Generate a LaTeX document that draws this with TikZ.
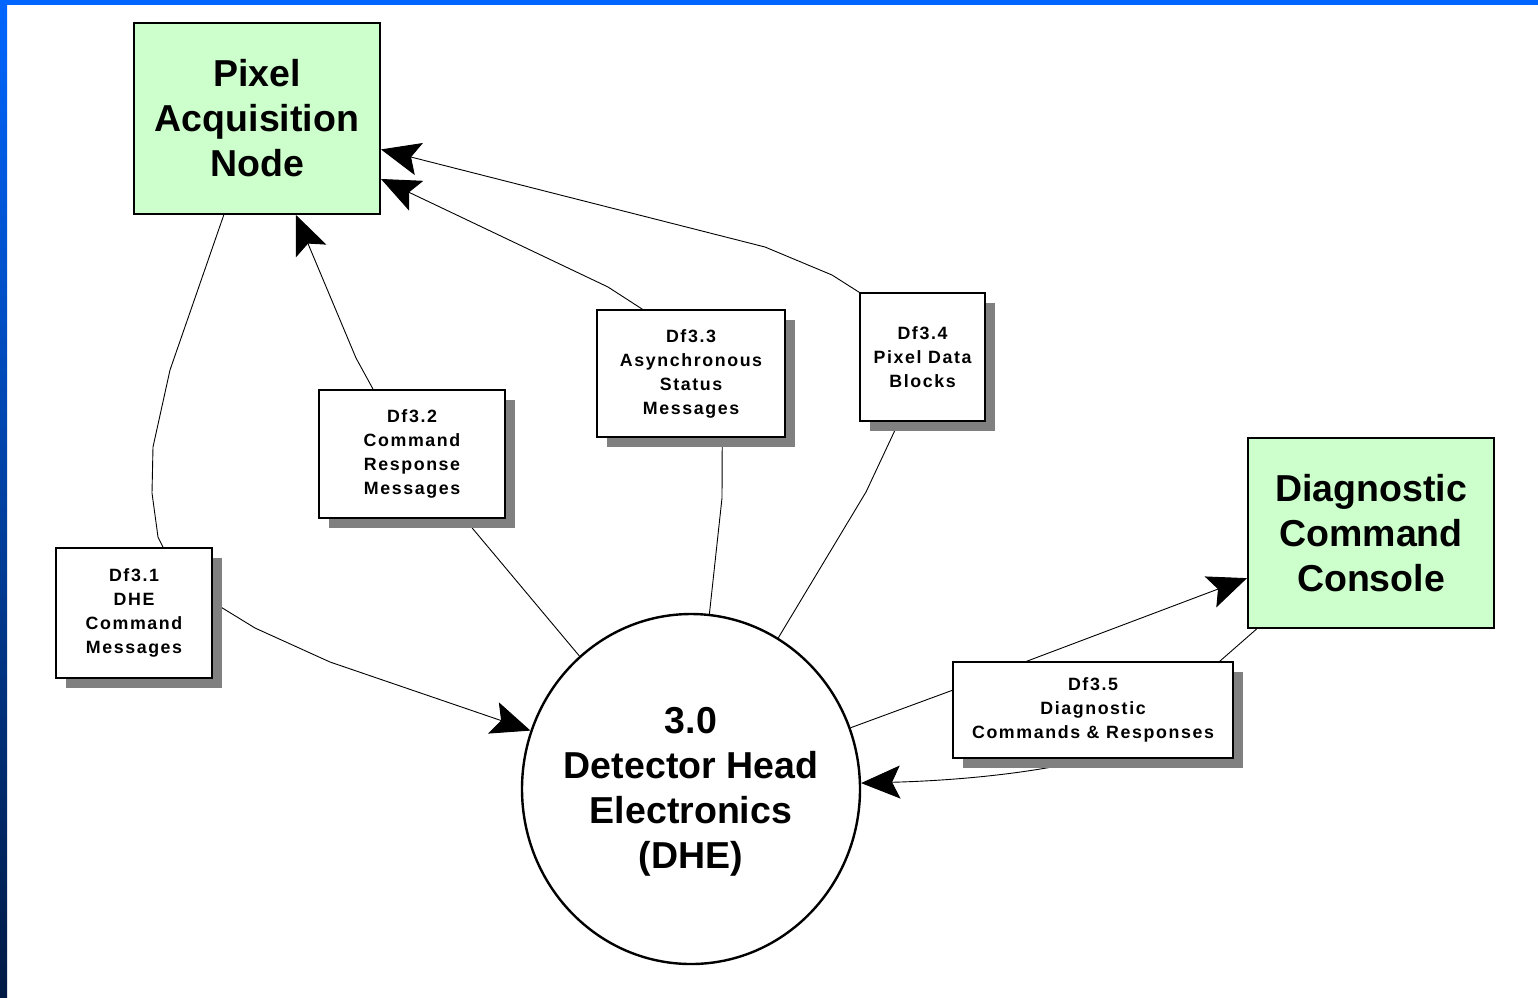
\documentclass[tikz,border=0pt]{standalone}
\usepackage{fontspec}
\setmainfont{Liberation Sans}
\newfontfamily\flowlabelfont{Liberation Sans}[LetterSpace=9]
\usetikzlibrary{arrows.meta,shapes.geometric,shadows}
\definecolor{nodegreen}{HTML}{CCFFCC}
\definecolor{frametop}{HTML}{0066FF}
\definecolor{framebottom}{HTML}{001A44}
\definecolor{shadowgray}{HTML}{808080}
\pgfdeclarelayer{backdrop}
\pgfdeclarelayer{flows}
\pgfsetlayers{backdrop,flows,main}

\begin{document}
\begin{tikzpicture}[x=1pt,y=-1pt,
  bigtext/.style={align=center, font=\fontsize{37.5}{45}\selectfont\bfseries},
  terminator/.style={bigtext, draw=black, line width=2pt, fill=nodegreen,
    inner sep=0pt, minimum width=246pt, minimum height=191pt},
  process/.style={ellipse, draw=black, line width=2.4pt, fill=white,
    inner sep=0pt, minimum width=338pt, minimum height=350pt},
  dataflow/.style={draw=black, line width=1.1pt, fill=white, align=center,
    inner sep=0pt, font=\flowlabelfont\fontsize{17.8}{24}\selectfont\bfseries,
    drop shadow={shadow xshift=10pt, shadow yshift=-10pt, fill=shadowgray, opacity=1}},
  flow/.style={line width=0.9pt},
  flowarrow/.style={flow, -{Stealth[length=39pt, width=33pt, inset=8pt]}},
]
\useasboundingbox (0,0) rectangle (1538,997);

% page frame
\begin{pgfonlayer}{backdrop}
  \fill[white] (0,0) rectangle (1538,997);
  \shade[top color=frametop, bottom color=framebottom] (0,0) rectangle (7,997);
  \fill[frametop] (0,0) rectangle (1538,5);
\end{pgfonlayer}

% external entities and the process
\node[terminator] (pan) at (257,118.5) {Pixel\\Acquisition\\Node};
\node[terminator, minimum height=190pt] (dcc) at (1371,533) {Diagnostic\\Command\\Console};
\node[process, label={[bigtext, yshift=-3pt]center:{3.0\\Detector Head\\Electronics\\(DHE)}}] (dhe) at (691,789) {};

% data flows
\node[dataflow, minimum width=156pt, minimum height=130pt] (df1) at (134,613)
  {Df3.1\\DHE\\Command\\Messages};
\node[dataflow, minimum width=186pt, minimum height=128pt] (df2) at (412,454)
  {Df3.2\\Command\\Response\\Messages};
\node[dataflow, minimum width=188pt, minimum height=127pt] (df3) at (691,373.5)
  {Df3.3\\Asynchronous\\Status\\Messages};
\node[dataflow, minimum width=125pt, minimum height=128pt] (df4) at (922.5,357)
  {Df3.4\\Pixel Data\\Blocks};
\node[dataflow, minimum width=280pt, minimum height=96pt] (df5) at (1093,710)
  {Df3.5\\Diagnostic\\Commands \& Responses};

% connectors
\begin{pgfonlayer}{flows}
  \draw[flow] (df1.66) -- (158,537) -- (152,493) -- (153,447) -- (170,370) -- (pan.251);
  \draw[flowarrow] (df1.8) -- (255,628) -- (330,662) -- (dhe.160);
  \draw[flowarrow] (df2.121) -- (356,358) -- (pan.292);
  \draw[flow] (df2.309) -- (dhe.130);
  \draw[flowarrow] (df3.127) -- (608,287) -- (pan.334);
  \draw[flow] (df3.296) -- (722,498) -- (dhe.84);
  \draw[flowarrow] (df4.north west) -- (832,275) -- (765,247) -- (pan.346);
  \draw[flow] (df4.250) -- (866,492) -- (dhe.60);
  \draw[flow] (dhe.21) -- (df5.172);
  \draw[flowarrow] (df5.144) -- (dcc.200);
  \draw[flow] (dcc.220) -- (df5.21);
  \draw[flowarrow] (df5.south) .. controls (1020,776) and (940,781) .. (dhe.2);
\end{pgfonlayer}
\end{tikzpicture}
\end{document}
